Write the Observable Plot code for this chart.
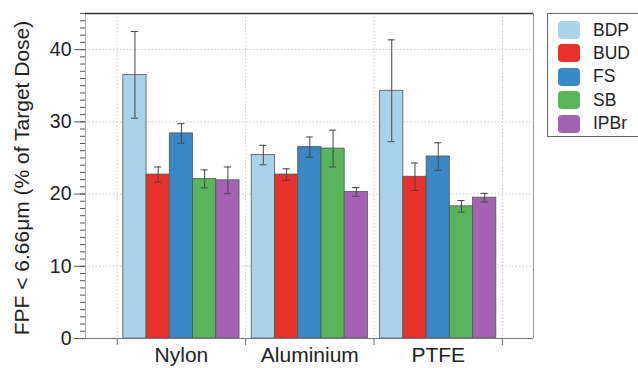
<!DOCTYPE html>
<html>
<head>
<meta charset="utf-8">
<script src="https://cdn.jsdelivr.net/npm/d3@7"></script>
<script src="https://cdn.jsdelivr.net/npm/@observablehq/plot@0.6"></script>
<style>
  html, body { margin: 0; padding: 0; background: #fff; }
  #wrap { position: relative; width: 638px; height: 368px; overflow: hidden; font-family: "Liberation Sans", Arial, Helvetica, sans-serif; }
  #legend { position: absolute; left: 547px; top: 13px; width: 110px; height: 124px; border: 1px solid #666; background: #fff; box-sizing: border-box; }
  .item { position: absolute; left: 10px; height: 20px; display: flex; align-items: center; }
  .sw { width: 22px; height: 18px; border-radius: 4px; margin-right: 13px; }
  .lb { font-size: 17.5px; color: #222; }
  #ylabel { position: absolute; left: 22px; top: 178px; transform: translate(-50%, -50%) rotate(-90deg); white-space: nowrap; font-size: 21px; color: #222; }
</style>
</head>
<body>
<div id="wrap"></div>
<script>
const categories = ["Nylon", "Aluminium", "PTFE"];
const series = ["BDP", "BUD", "FS", "SB", "IPBr"];
const colors = ["#a9d3ea", "#e8312a", "#3a87c6", "#58b55a", "#a462b2"];
const meanBDP = [36.5, 25.4, 34.3];
const meanBUD = [22.7, 22.7, 22.4];
const meanFS = [28.4, 26.5, 25.2];
const meanSB = [22.1, 26.3, 18.3];
const meanIPBr = [21.9, 20.3, 19.5];
const errBDP = [6.0, 1.35, 7.05];
const errBUD = [1.05, 0.8, 1.9];
const errFS = [1.35, 1.4, 1.9];
const errSB = [1.25, 2.55, 0.8];
const errIPBr = [1.85, 0.6, 0.6];
const yTicks = [0, 10, 20, 30, 40];
const yLabel = "FPF < 6.66μm (% of Target Dose)";

const means = [meanBDP, meanBUD, meanFS, meanSB, meanIPBr];
const errs = [errBDP, errBUD, errFS, errSB, errIPBr];

const bw = 0.181;   // bar width in group units
const cap = 0.028;  // half cap width
const rows = [];
series.forEach((s, si) => {
  categories.forEach((c, ci) => {
    const x1 = ci + 1 + (si - 2.5) * bw;
    rows.push({series: s, category: c, x1, x2: x1 + bw, xc: x1 + bw / 2,
               v: means[si][ci], lo: means[si][ci] - errs[si][ci], hi: means[si][ci] + errs[si][ci]});
  });
});
const catRows = categories.map((c, i) => ({c, x: i + 1}));
const bounds = d3.range(0, categories.length + 1).map(i => i + 0.5);

const xDom = [0.253, 3.742];
const yDom = [0, 45];

const plot = Plot.plot({
  width: 638,
  height: 368,
  marginLeft: 85,
  marginRight: 105,
  marginTop: 13,
  marginBottom: 30,
  style: {fontFamily: '"Liberation Sans", Arial, Helvetica, sans-serif', background: "transparent"},
  x: {type: "linear", domain: xDom, axis: null},
  y: {domain: yDom, axis: null},
  color: {domain: series, range: colors},
  marks: [
    // grid
    Plot.ruleY(yTicks.filter(d => d > 0), {stroke: "#c8c8c8", strokeDasharray: "1.5,2"}),
    Plot.ruleX(bounds, {stroke: "#c8c8c8", strokeDasharray: "1.5,2"}),
    // y axis: minor + major ticks
    Plot.axisY(d3.range(0, 46, 1), {tickSize: 5, tickFormat: () => "", stroke: "#555"}),
    Plot.axisY(yTicks, {tickSize: 11, tickPadding: 3, fontSize: 19.5, stroke: "#555", fill: "#222", label: null}),
    // x axis ticks at group boundaries
    Plot.axisX(bounds, {tickSize: 7, tickFormat: () => "", stroke: "#666", label: null}),
    // category labels
    Plot.text(catRows, {x: "x", y: 0, text: "c", fontSize: 21, fill: "#222", dy: 23, frameAnchor: "bottom"}),
    // frame lines
    Plot.ruleX([xDom[0]], {stroke: "#aaa"}),
    Plot.ruleX([xDom[1]], {stroke: "#999"}),
    Plot.ruleY([yDom[1]], {stroke: "#333", strokeWidth: 1.5}),
    // bars
    Plot.rectY(rows, {x1: "x1", x2: "x2", y1: 0, y2: "v", fill: "series", stroke: "#555", strokeWidth: 0.8}),
    // error bars
    Plot.ruleX(rows, {x: "xc", y1: "lo", y2: "hi", stroke: "#444", strokeWidth: 1}),
    Plot.ruleY(rows, {y: "lo", x1: d => d.xc - cap, x2: d => d.xc + cap, stroke: "#444", strokeWidth: 1}),
    Plot.ruleY(rows, {y: "hi", x1: d => d.xc - cap, x2: d => d.xc + cap, stroke: "#444", strokeWidth: 1}),
    Plot.ruleY([0], {stroke: "#777"})
  ]
});

const wrap = document.getElementById("wrap");
wrap.appendChild(plot);

const yl = document.createElement("div");
yl.id = "ylabel";
yl.textContent = yLabel;
wrap.appendChild(yl);

const legend = document.createElement("div");
legend.id = "legend";
series.forEach((s, i) => {
  const it = document.createElement("div");
  it.className = "item";
  it.style.top = (6 + i * 23.4) + "px";
  const sw = document.createElement("div");
  sw.className = "sw";
  sw.style.background = colors[i];
  const lb = document.createElement("span");
  lb.className = "lb";
  lb.textContent = s;
  it.appendChild(sw);
  it.appendChild(lb);
  legend.appendChild(it);
});
wrap.appendChild(legend);
</script>
</body>
</html>
